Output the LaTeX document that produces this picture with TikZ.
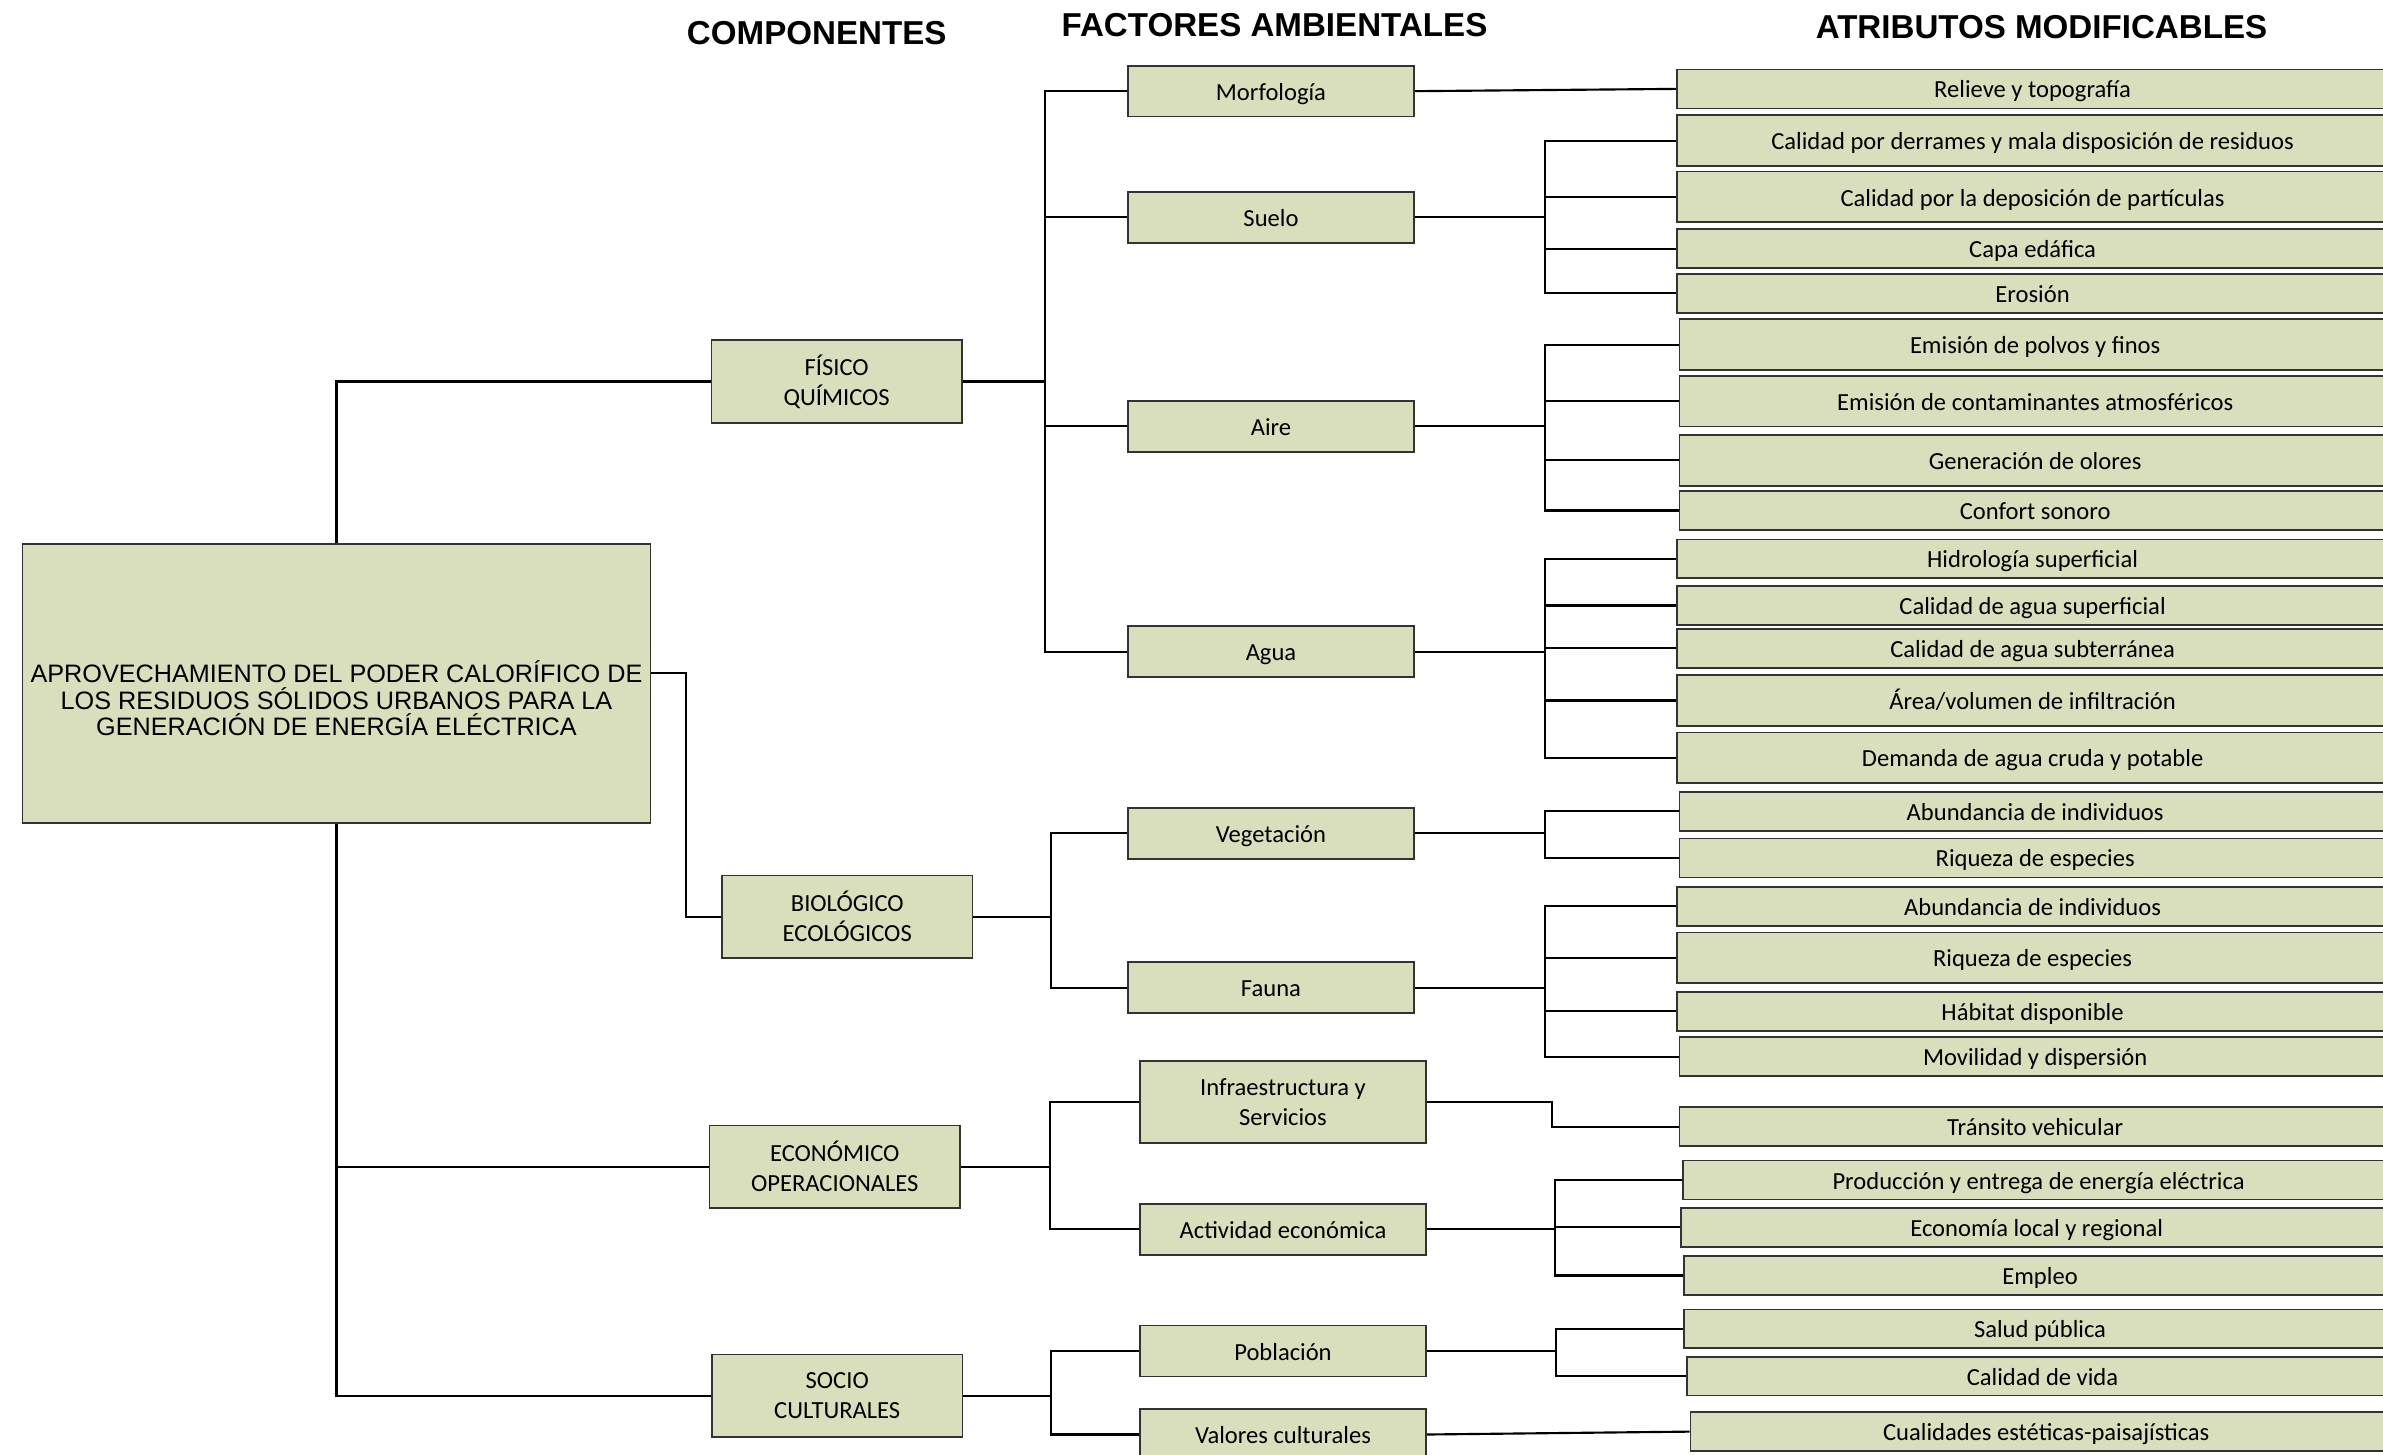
\documentclass[tikz,border=0pt]{standalone}
\usepackage{fontspec}
\setmainfont{Carlito}
\newfontfamily\arialfont{Liberation Sans}
\definecolor{boxfill}{HTML}{D9DFBD}
\begin{document}
\begin{tikzpicture}
  [
    x=0.025cm, y=-0.025cm,
    box/.style =
      {draw=black!80, fill=boxfill, line width=0.8pt, align=center, inner sep=0pt,
       font=\fontsize{11.5}{14}\selectfont},
    oneline/.style = {text height=9.5pt, text depth=1pt},
    root/.style =
      {box, minimum width=10.33cm, minimum height=4.58cm,
       font=\arialfont\fontsize{11.8}{12.4}\selectfont},
    comp/.style = {box, minimum width=4.12cm, minimum height=1.355cm},
    fact/.style = {box, oneline, minimum width=4.71cm, minimum height=0.8375cm},
    attr/.style = {box, oneline, anchor=west, minimum width=11.7cm, minimum height=0.64cm},
    tall/.style = {minimum height=0.835cm},
    head/.style = {inner sep=0pt, font=\arialfont\bfseries\fontsize{15.5}{18}\selectfont},
    link/.style = {line width=1pt}
  ]
  \useasboundingbox (0,0) rectangle (1568,957);
  \clip (0,0) rectangle (1568,957);

  \node [head] at ( 537.4,22.0) (hcomp) {COMPONENTES};
  \node [head] at ( 838.6,16.7) (hfact) {FACTORES AMBIENTALES};
  \node [head] at (1343.3,18.1) (hattr) {ATRIBUTOS MODIFICABLES};

  \node [root] at (221.4,449.8) (main)
    {\rule{0pt}{24pt}APROVECHAMIENTO DEL PODER CALORÍFICO DE\\
     LOS RESIDUOS SÓLIDOS URBANOS PARA LA\\
     GENERACIÓN DE ENERGÍA ELÉCTRICA};

  \node [comp] at (550.5,251.0) (fq)  {FÍSICO\\QUÍMICOS};
  \node [comp] at (557.5,603.2) (bio) {BIOLÓGICO\\ECOLÓGICOS};
  \node [comp] at (549.3,767.7) (eco) {ECONÓMICO\\OPERACIONALES};
  \node [comp] at (550.9,918.3) (soc) {SOCIO\\CULTURALES};

  \node [fact] at (836.3, 60.0) (morf)  {Morfología};
  \node [fact] at (836.3,143.0) (suelo) {Suelo};
  \node [fact] at (836.3,280.5) (aire)  {Aire};
  \node [fact] at (836.3,428.8) (agua)  {Agua};
  \node [fact] at (836.3,548.3) (veg)   {Vegetación};
  \node [fact] at (836.3,649.9) (fauna) {Fauna};
  \node [fact, text height=, text depth=, minimum height=1.35cm] at (844.2,725.1) (infra)
    {Infraestructura y\\Servicios};
  \node [fact] at (844.2,808.8) (activ) {Actividad económica};
  \node [fact] at (844.2,888.9) (pobl)  {Población};
  \node [fact] at (844.2,943.9) (valor) {Valores culturales};

  \node [attr]       at (1102.8, 58.5) (rel)  {Relieve y topografía};
  \node [attr, tall] at (1102.8, 92.5) (der)  {Calidad por derrames y mala disposición de residuos};
  \node [attr, tall] at (1102.8,129.6) (dep)  {Calidad por la deposición de partículas};
  \node [attr]       at (1102.8,163.7) (capa) {Capa edáfica};
  \node [attr]       at (1102.8,193.0) (eros) {Erosión};
  \node [attr, tall] at (1104.5,226.8) (polv) {Emisión de polvos y finos};
  \node [attr, tall] at (1104.5,264.0) (cont) {Emisión de contaminantes atmosféricos};
  \node [attr, tall] at (1104.5,302.9) (olor) {Generación de olores};
  \node [attr]       at (1104.5,335.9) (conf) {Confort sonoro};
  \node [attr]       at (1102.8,367.7) (hid)  {Hidrología superficial};
  \node [attr]       at (1102.8,398.4) (csup) {Calidad de agua superficial};
  \node [attr]       at (1102.8,426.6) (csub) {Calidad de agua subterránea};
  \node [attr, tall] at (1102.8,460.9) (area) {Área/volumen de infiltración};
  \node [attr, tall] at (1102.8,498.6) (dem)  {Demanda de agua cruda y potable};
  \node [attr]       at (1104.5,533.8) (abv)  {Abundancia de individuos};
  \node [attr]       at (1104.5,564.5) (riv)  {Riqueza de especies};
  \node [attr]       at (1102.8,596.4) (abf)  {Abundancia de individuos};
  \node [attr, tall] at (1102.8,630.2) (rif)  {Riqueza de especies};
  \node [attr]       at (1102.8,665.4) (hab)  {Hábitat disponible};
  \node [attr]       at (1104.5,695.3) (mov)  {Movilidad y dispersión};
  \node [attr]       at (1104.5,741.4) (tran) {Tránsito vehicular};
  \node [attr]       at (1106.7,776.4) (prod) {Producción y entrega de energía eléctrica};
  \node [attr]       at (1105.5,807.5) (econ) {Economía local y regional};
  \node [attr]       at (1107.7,839.3) (emp)  {Empleo};
  \node [attr]       at (1107.7,874.4) (sal)  {Salud pública};
  \node [attr]       at (1109.3,905.5) (cvid) {Calidad de vida};
  \node [attr]       at (1111.8,942.0) (cual) {Cualidades estéticas-paisajísticas};

  \path (fq.east)    ++(54,0)   coordinate (jfq);
  \path (bio.east)   ++(51,0)   coordinate (jbio);
  \path (eco.east)   ++(58.5,0) coordinate (jeco);
  \path (soc.east)   ++(57.5,0) coordinate (jsoc);
  \path (suelo.east) ++(85.5,0) coordinate (jsue);
  \path (aire.east)  ++(85.5,0) coordinate (jair);
  \path (agua.east)  ++(85.5,0) coordinate (jagu);
  \path (veg.east)   ++(85.5,0) coordinate (jveg);
  \path (fauna.east) ++(85.5,0) coordinate (jfau);
  \path (activ.east) ++(84,0)   coordinate (jact);
  \path (pobl.east)  ++(85,0)   coordinate (jpob);

  \draw[link] (main.north)  |- (fq.west);
  \draw[link] (main.2)      -- ++(23,0) |- (bio.west);
  \draw[link] (main.south)  |- (eco.west);
  \draw[link] (main.south)  |- (soc.west);

  \draw[link] (fq.east)     -- (jfq);
  \draw[link] (jfq)         |- (morf.west);
  \draw[link] (jfq)         |- (suelo.west);
  \draw[link] (jfq)         |- (aire.west);
  \draw[link] (jfq)         |- (agua.west);
  \draw[link] (bio.east)    -- (jbio);
  \draw[link] (jbio)        |- (veg.west);
  \draw[link] (jbio)        |- (fauna.west);
  \draw[link] (eco.east)    -- (jeco);
  \draw[link] (jeco)        |- (infra.west);
  \draw[link] (jeco)        |- (activ.west);
  \draw[link] (soc.east)    -- (jsoc);
  \draw[link] (jsoc)        |- (pobl.west);
  \draw[link] (jsoc)        |- (valor.west);

  \draw[link] (morf.east)   -- (rel.west);
  \draw[link] (suelo.east)  -- (jsue);
  \draw[link] (jsue)        |- (der.west);
  \draw[link] (jsue)        |- (dep.west);
  \draw[link] (jsue)        |- (capa.west);
  \draw[link] (jsue)        |- (eros.west);
  \draw[link] (aire.east)   -- (jair);
  \draw[link] (jair)        |- (polv.west);
  \draw[link] (jair)        |- (cont.west);
  \draw[link] (jair)        |- (olor.west);
  \draw[link] (jair)        |- (conf.west);
  \draw[link] (agua.east)   -- (jagu);
  \draw[link] (jagu)        |- (hid.west);
  \draw[link] (jagu)        |- (csup.west);
  \draw[link] (jagu)        |- (csub.west);
  \draw[link] (jagu)        |- (area.west);
  \draw[link] (jagu)        |- (dem.west);
  \draw[link] (veg.east)    -- (jveg);
  \draw[link] (jveg)        |- (abv.west);
  \draw[link] (jveg)        |- (riv.west);
  \draw[link] (fauna.east)  -- (jfau);
  \draw[link] (jfau)        |- (abf.west);
  \draw[link] (jfau)        |- (rif.west);
  \draw[link] (jfau)        |- (hab.west);
  \draw[link] (jfau)        |- (mov.west);
  \draw[link] (infra.east)  -- ++(82,0) |- (tran.west);
  \draw[link] (activ.east)  -- (jact);
  \draw[link] (jact)        |- (prod.west);
  \draw[link] (jact)        |- (econ.west);
  \draw[link] (jact)        |- (emp.west);
  \draw[link] (pobl.east)   -- (jpob);
  \draw[link] (jpob)        |- (sal.west);
  \draw[link] (jpob)        |- (cvid.west);
  \draw[link] (valor.east)  -- (cual.west);
\end{tikzpicture}
\end{document}
